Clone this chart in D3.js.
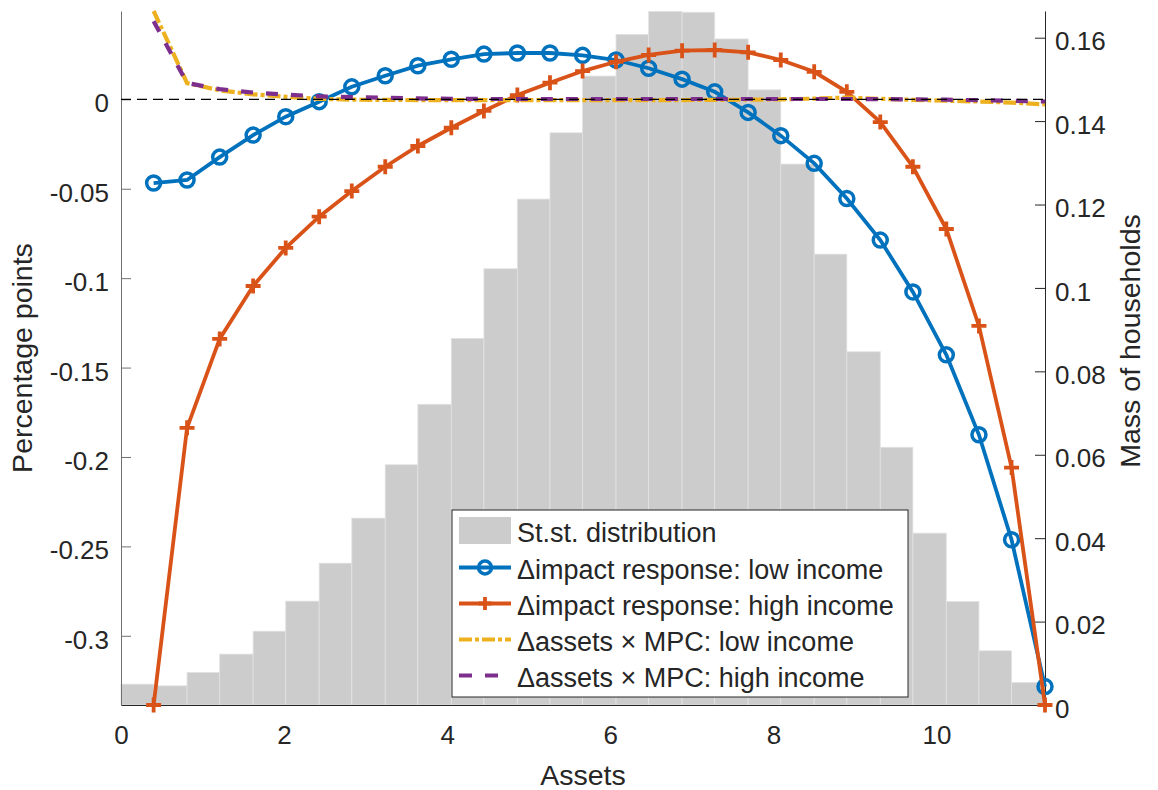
<!DOCTYPE html>
<html><head><meta charset="utf-8">
<script src="https://cdn.jsdelivr.net/npm/d3@7"></script>
<style>
body{margin:0;background:#fff}
svg text{font-family:"Liberation Sans",Arial,Helvetica,sans-serif;fill:#262626}
</style>
</head><body>
<svg id="chart" width="1158" height="790"></svg>
<script>
// ---------- data ----------
const assets = [0.40, 0.81, 1.21, 1.62, 2.02, 2.43, 2.83, 3.24, 3.64, 4.05, 4.45, 4.86, 5.26, 5.66,
                6.07, 6.47, 6.88, 7.28, 7.69, 8.09, 8.50, 8.90, 9.31, 9.71, 10.12, 10.52, 10.92, 11.33];
const binEdges = [0].concat(assets);
const massHouseholds = [0.0050, 0.0046, 0.0078, 0.0122, 0.0177, 0.0249, 0.0340, 0.0448, 0.0576, 0.0721,
                        0.0879, 0.1046, 0.1213, 0.1372, 0.1508, 0.1608, 0.1663, 0.1661, 0.1597, 0.1475,
                        0.1297, 0.1081, 0.0847, 0.0618, 0.0412, 0.0248, 0.0130, 0.0054];
const impactLow = [-0.0468, -0.0451, -0.0323, -0.0200, -0.0097, -0.0013, 0.0070, 0.0132, 0.0188, 0.0224,
                   0.0253, 0.0259, 0.0259, 0.0246, 0.0220, 0.0174, 0.0113, 0.0042, -0.0073, -0.0203,
                   -0.0358, -0.0555, -0.0787, -0.1077, -0.1429, -0.1876, -0.2463, -0.3284];
const impactHigh = [-0.3387, -0.1837, -0.1340, -0.1044, -0.0831, -0.0656, -0.0513, -0.0377, -0.0261, -0.0159,
                    -0.0065, 0.0024, 0.0093, 0.0158, 0.0210, 0.0248, 0.0272, 0.0276, 0.0263, 0.0220,
                    0.0154, 0.0042, -0.0127, -0.0377, -0.0725, -0.1267, -0.2059, -0.3387];
const mpcLow = [0.0494, 0.0091, 0.0050, 0.0028, 0.0014, 0.0003, -0.0002, -0.0003, -0.0004, -0.0004,
                -0.0004, -0.0004, -0.0004, -0.0004, -0.0004, -0.0004, -0.0004, -0.0003, -0.0002, 0.0000,
                0.0004, 0.0010, 0.0003, -0.0003, -0.0008, -0.0012, -0.0018, -0.0028];
const mpcHigh = [0.0437, 0.0091, 0.0057, 0.0038, 0.0026, 0.0017, 0.0012, 0.0009, 0.0005, 0.0003,
                 0.0002, 0.0002, 0.0002, 0.0002, 0.0002, 0.0002, 0.0002, 0.0002, 0.0002, 0.0002,
                 0.0002, 0.0002, 0.0001, 0.0000, -0.0002, -0.0005, -0.0008, -0.0012];

const xTicks = [0, 2, 4, 6, 8, 10];
const xTickLabels = ["0", "2", "4", "6", "8", "10"];
const leftTicks = [-0.3, -0.25, -0.2, -0.15, -0.1, -0.05, 0];
const leftTickLabels = ["-0.3", "-0.25", "-0.2", "-0.15", "-0.1", "-0.05", "0"];
const rightTicks = [0, 0.02, 0.04, 0.06, 0.08, 0.1, 0.12, 0.14, 0.16];
const rightTickLabels = ["0", "0.02", "0.04", "0.06", "0.08", "0.1", "0.12", "0.14", "0.16"];
const legendLabels = ["St.st. distribution",
  "\u0394impact response: low income",
  "\u0394impact response: high income",
  "\u0394assets \u00d7 MPC: low income",
  "\u0394assets \u00d7 MPC: high income"];
const xLabel = "Assets", yLeftLabel = "Percentage points", yRightLabel = "Mass of households";

// ---------- layout ----------
const L = 121, R = 1045, T = 11, B = 705;
const C = {blue:"#0072BD", orange:"#D95319", yellow:"#EDB120", purple:"#7E2F8E", bar:"#cccccc", text:"#262626"};
const svg = d3.select("#chart");
const x = d3.scaleLinear().domain([0, 11.33]).range([L, R]);
const yL = d3.scaleLinear().domain([-0.3387, 0.0494]).range([B, T]);
const yR = d3.scaleLinear().domain([0, 0.1664]).range([B, T]);

// bars
svg.append("g").selectAll("rect").data(massHouseholds).join("rect")
  .attr("x", (d, i) => x(binEdges[i]))
  .attr("width", (d, i) => x(binEdges[i + 1]) - x(binEdges[i]))
  .attr("y", d => yR(d))
  .attr("height", d => yR(0) - yR(d))
  .attr("fill", C.bar).attr("stroke", "#e2e2e2").attr("stroke-width", 0.8);

// axes
function styleAxis(g, col) {
  g.attr("font-size", null).attr("font-family", null);
  g.select(".domain").attr("stroke", col).attr("stroke-width", 1);
  g.selectAll(".tick line").attr("stroke", col).attr("stroke-width", 1);
  g.selectAll(".tick text").style("font-size", "26px").style("fill", C.text);
}
const gx = svg.append("g").attr("transform", `translate(0,${B})`)
  .call(d3.axisBottom(x).tickValues(xTicks).tickFormat((d, i) => xTickLabels[i])
    .tickSizeInner(0).tickSizeOuter(0).tickPadding(21));
styleAxis(gx, C.text);

const gl = svg.append("g").attr("transform", `translate(${L},0)`)
  .call(d3.axisLeft(yL).tickValues(leftTicks).tickFormat((d, i) => leftTickLabels[i])
    .tickSizeInner(-10).tickSizeOuter(0).tickPadding(12));
styleAxis(gl, "#707070");
gl.selectAll(".tick text").attr("dy", "0.48em");

const gr = svg.append("g").attr("transform", `translate(${R},0)`)
  .call(d3.axisRight(yR).tickValues(rightTicks).tickFormat((d, i) => rightTickLabels[i])
    .tickSizeInner(-10).tickSizeOuter(0).tickPadding(10));
styleAxis(gr, C.text);
gr.selectAll(".tick text").attr("dy", "0.47em");

// axis labels
svg.append("text").attr("x", (L + R) / 2).attr("y", 785).attr("text-anchor", "middle")
  .style("font-size", "28.5px").text(xLabel);
svg.append("text").attr("transform", `translate(32,${(T + B) / 2}) rotate(-90)`).attr("text-anchor", "middle")
  .style("font-size", "28.5px").text(yLeftLabel);
svg.append("text").attr("transform", `translate(1140,341) rotate(-90)`).attr("text-anchor", "middle")
  .style("font-size", "28.5px").text(yRightLabel);

// lines
const lineGen = d3.line().x((d, i) => x(assets[i])).y(d => yL(d));
const plot = svg.append("g");
plot.append("path").attr("d", lineGen(impactLow)).attr("fill", "none").attr("stroke", C.blue).attr("stroke-width", 3.8);
plot.append("g").selectAll("circle").data(impactLow).join("circle")
  .attr("cx", (d, i) => x(assets[i])).attr("cy", d => yL(d)).attr("r", 7)
  .attr("fill", "none").attr("stroke", C.blue).attr("stroke-width", 3.5);
plot.append("path").attr("d", lineGen(impactHigh)).attr("fill", "none").attr("stroke", C.orange).attr("stroke-width", 3.8);
plot.append("g").selectAll("path").data(impactHigh).join("path")
  .attr("transform", (d, i) => `translate(${x(assets[i])},${yL(d)})`)
  .attr("d", "M-7.5,0H7.5M0,-7.5V7.5").attr("fill", "none").attr("stroke", C.orange).attr("stroke-width", 3.8);
plot.append("path").attr("d", lineGen(mpcLow)).attr("fill", "none").attr("stroke", C.yellow)
  .attr("stroke-width", 4.2).attr("stroke-dasharray", "13,3,4,3");
plot.append("path").attr("d", lineGen(mpcHigh)).attr("fill", "none").attr("stroke", C.purple)
  .attr("stroke-width", 4.2).attr("stroke-dasharray", "12,13");
// zero reference line
svg.append("line").attr("x1", x(0)).attr("x2", x(11.33)).attr("y1", yL(0)).attr("y2", yL(0))
  .attr("stroke", "#000").attr("stroke-width", 1.3).attr("stroke-dasharray", "10,6");

// legend
const lg = svg.append("g");
lg.append("rect").attr("x", 452).attr("y", 510).attr("width", 456).attr("height", 187)
  .attr("fill", "#fff").attr("stroke", C.text).attr("stroke-width", 1);
const baselines = [542, 579, 615, 651, 687];
lg.append("rect").attr("x", 459).attr("y", 517).attr("width", 52).attr("height", 27).attr("fill", C.bar);
const sy = baselines.map(b => b - 11.5);
lg.append("line").attr("x1", 459).attr("x2", 511).attr("y1", sy[1]).attr("y2", sy[1]).attr("stroke", C.blue).attr("stroke-width", 3.8);
lg.append("circle").attr("cx", 485).attr("cy", sy[1]).attr("r", 6.5).attr("fill", "none").attr("stroke", C.blue).attr("stroke-width", 3.5);
lg.append("line").attr("x1", 459).attr("x2", 511).attr("y1", sy[2]).attr("y2", sy[2]).attr("stroke", C.orange).attr("stroke-width", 3.8);
lg.append("path").attr("transform", `translate(485,${sy[2]})`).attr("d", "M-6.5,0H6.5M0,-6.5V6.5").attr("stroke", C.orange).attr("stroke-width", 3.8);
lg.append("line").attr("x1", 459).attr("x2", 511).attr("y1", sy[3]).attr("y2", sy[3]).attr("stroke", C.yellow).attr("stroke-width", 4.2).attr("stroke-dasharray", "13,3,4,3");
lg.append("line").attr("x1", 459).attr("x2", 511).attr("y1", sy[4]).attr("y2", sy[4]).attr("stroke", C.purple).attr("stroke-width", 4.2).attr("stroke-dasharray", "13,13");
lg.selectAll("text.lab").data(legendLabels).join("text").attr("class", "lab")
  .attr("x", 517).attr("y", (d, i) => baselines[i]).style("font-size", "27px").text(d => d);
</script>
</body></html>
